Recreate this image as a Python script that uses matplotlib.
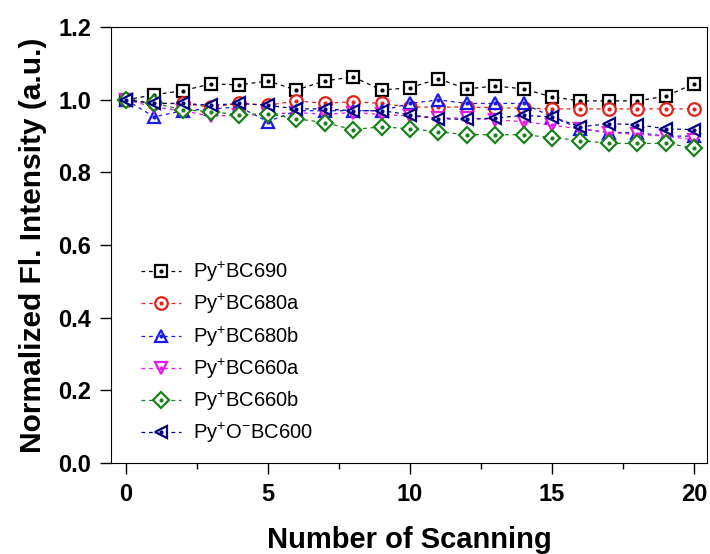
import matplotlib.pyplot as plt
from matplotlib.legend_handler import HandlerTuple

plt.rcParams['font.family'] = ['Liberation Sans', 'DejaVu Sans']
plt.rcParams['mathtext.default'] = 'regular'

scans = list(range(21))

bc690 = [1.0, 1.014, 1.025, 1.044, 1.041, 1.052, 1.027, 1.052, 1.063, 1.027, 1.033,
         1.058, 1.030, 1.038, 1.030, 1.008, 0.997, 0.997, 0.997, 1.010, 1.044]
bc680a = [1.0, 0.99, 0.99, 0.98, 0.99, 0.985, 0.997, 0.99, 0.995, 0.99, 0.98,
          0.98, 0.98, 0.978, 0.977, 0.975, 0.975, 0.975, 0.975, 0.975, 0.975]
bc680b = [1.0, 0.953, 0.97, 0.975, 0.98, 0.94, 0.97, 0.97, 0.97, 0.97, 0.99,
          1.0, 0.99, 0.99, 0.99, 0.953, 0.92, 0.91, 0.91, 0.90, 0.90]
bc660a = [1.0, 0.98, 0.97, 0.955, 0.958, 0.96, 0.965, 0.96, 0.965, 0.96, 0.955,
          0.95, 0.95, 0.945, 0.94, 0.93, 0.92, 0.91, 0.905, 0.90, 0.89]
bc660b = [1.0, 0.99, 0.973, 0.967, 0.959, 0.962, 0.948, 0.937, 0.918, 0.926, 0.92,
          0.912, 0.904, 0.904, 0.904, 0.896, 0.888, 0.88, 0.88, 0.88, 0.868]
bc600 = [1.0, 0.99, 0.99, 0.985, 0.99, 0.985, 0.975, 0.975, 0.97, 0.97, 0.959,
         0.948, 0.946, 0.95, 0.957, 0.953, 0.926, 0.934, 0.932, 0.92, 0.918]

series = [
    (bc690, 'Py$^{+}$BC690', 's', 'black'),
    (bc680a, 'Py$^{+}$BC680a', 'o', '#e3211c'),
    (bc680b, 'Py$^{+}$BC680b', '^', '#1a1ae6'),
    (bc660a, 'Py$^{+}$BC660a', 'v', '#e61ae6'),
    (bc660b, 'Py$^{+}$BC660b', 'D', '#1a801a'),
    (bc600, 'Py$^{+}$O$^{-}$BC600', '<', '#000080'),
]

fig = plt.figure(figsize=(7.1, 5.54), dpi=100)
ax = fig.add_axes([0.156, 0.164, 0.84, 0.787])

handles = []
labels = []
for vals, label, mk, col in series:
    size = 8 if mk == 'D' else 9
    line, = ax.plot(scans, vals, linestyle=(0, (3, 3)), linewidth=0.9, color=col,
                    marker=mk, markersize=size, markerfacecolor='white',
                    markeredgecolor=col, markeredgewidth=1.6)
    dot, = ax.plot(scans, vals, linestyle='none', marker='o', markersize=2,
                   color=col)
    handles.append((line, dot))
    labels.append(label)

ax.set_xlim(-0.53, 20.46)
ax.set_ylim(0, 1.2)
ax.set_xticks([0, 5, 10, 15, 20])
ax.set_xticks([2.5, 7.5, 12.5, 17.5], minor=True)
ax.set_yticks([0.0, 0.2, 0.4, 0.6, 0.8, 1.0, 1.2])
ax.set_yticklabels(['0.0', '0.2', '0.4', '0.6', '0.8', '1.0', '1.2'])
ax.tick_params(axis='both', which='major', direction='out', length=8, width=1,
               labelsize=17, pad=6)
ax.tick_params(axis='both', which='minor', direction='out', length=4, width=1)
for lab in ax.get_xticklabels() + ax.get_yticklabels():
    lab.set_fontweight('bold')

ax.set_xlabel('Number of Scanning', fontsize=21, fontweight='bold', labelpad=15)
ax.set_ylabel('Normalized Fl. Intensity (a.u.)', fontsize=21.5, fontweight='bold',
              labelpad=8)

ax.legend(handles, labels, handler_map={tuple: HandlerTuple(ndivide=1)},
          loc='lower left', bbox_to_anchor=(0.02, 0.0), frameon=False,
          fontsize=14.5, handlelength=2.0, labelspacing=0.4, handletextpad=0.6)

fig.savefig('out.png', dpi=100)
